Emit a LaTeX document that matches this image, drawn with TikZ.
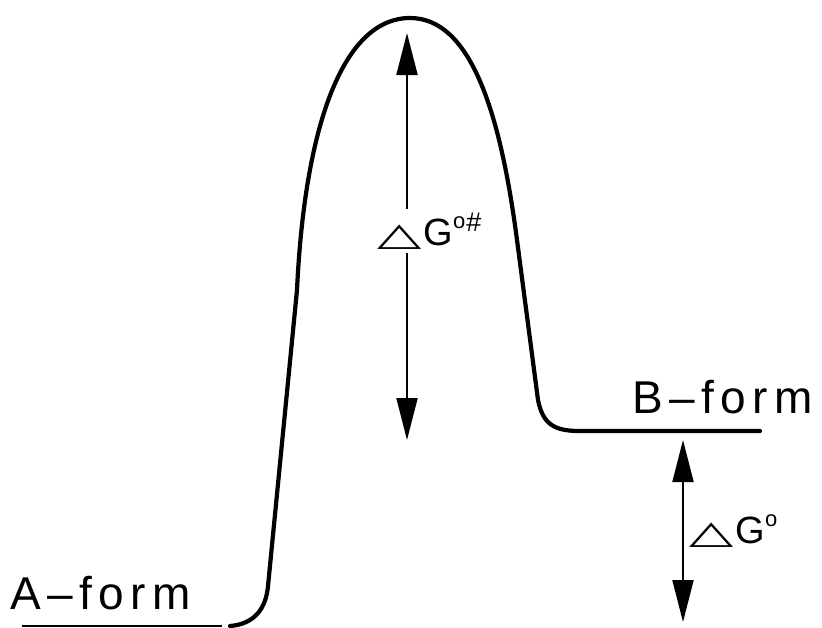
\documentclass[tikz,border=0pt]{standalone}
\usepackage{fontspec}
\setmainfont{Liberation Sans}
\newfontfamily\symfont{DejaVu Sans}
\usetikzlibrary{arrows.meta}
\newcommand{\dtri}{{\symfont\scalebox{1.8}[1]{\fontsize{32}{32}\selectfont △}}}
\newcommand{\degsym}{\raisebox{17pt}{\fontsize{22}{22}\selectfont o}}
\begin{document}
\begin{tikzpicture}[x=1pt,y=-1pt,
  energycurve/.style={line width=4.2pt, line join=round, line cap=round},
  baseline line/.style={line width=1.8pt},
  shaft/.style={line width=2pt, {Triangle[length=42pt,width=21pt]}-{Triangle[length=42pt,width=21pt]}},
  formlabel/.style={font=\fontsize{46}{46}\selectfont\addfontfeature{LetterSpace=14}, inner sep=0pt, anchor=base west},
  dglabel/.style={font=\fontsize{38}{38}\selectfont, inner sep=4pt, anchor=base west}]
\useasboundingbox (0,0) rectangle (822,627);

% energy profile
\draw[energycurve] (230,626) .. controls (255,624) and (266,608) .. (268,586)
  -- (297,290)
  .. controls (305,120) and (345,18) .. (410,18)
  .. controls (470,18) and (500,110) .. (517,240)
  -- (538,400)
  .. controls (543,425) and (555,431) .. (580,431)
  -- (760,431);

% A-form baseline
\coordinate (al) at (22,626);
\coordinate (ar) at (222,626);
\draw[baseline line] (al) -- (ar);

% labels
\node[formlabel] (aform) at (10,609) {A–form};
\node[formlabel] (bform) at (632,413) {B–form};

% activation arrow
\coordinate (t1) at (407,33);
\coordinate (b1) at (407,440);
\draw[shaft] (t1) -- (b1);
\node[dglabel, fill=white] (dg1) at (373,245) {\dtri\kern2pt G\degsym\kern1pt\raisebox{14pt}{\fontsize{27}{27}\selectfont\#}};

% reaction free energy arrow
\coordinate (t2) at (683,440);
\coordinate (b2) at (683,622);
\draw[shaft] (t2) -- (b2);
\node[dglabel] (dg2) at (685,543) {\dtri\kern2pt G\degsym};
\end{tikzpicture}
\end{document}
